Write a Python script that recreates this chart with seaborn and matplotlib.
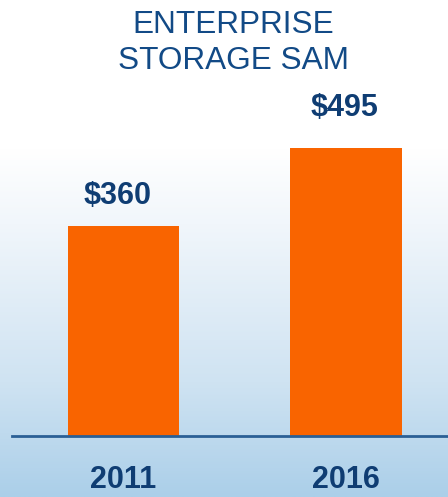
import numpy as np
import pandas as pd
import matplotlib
matplotlib.use("Agg")
import matplotlib.pyplot as plt
import seaborn as sns
from matplotlib.colors import LinearSegmentedColormap

# ---- data ----
years = ["2011", "2016"]
values = [360, 495]
value_labels = ["$360", "$495"]
title_text = "ENTERPRISE\nSTORAGE SAM"

df = pd.DataFrame({"year": years, "value": values})

sns.set_theme(style="white")
plt.rcParams["font.family"] = ["Liberation Sans", "DejaVu Sans"]

W, H = 448, 497
fig = plt.figure(figsize=(W / 100, H / 100), dpi=100)

# background gradient (white top -> light blue bottom)
bg = fig.add_axes([0, 0, 1, 1], zorder=0)
bg.set_axis_off()
cmap = LinearSegmentedColormap.from_list(
    "bg", [(0.0, "#ffffff"), (0.30, "#ffffff"), (0.45, "#f1f6fb"),
           (0.77, "#cfe3f2"), (1.0, "#abcfe9")])
grad = np.linspace(0, 1, 256).reshape(-1, 1)
bg.imshow(grad, aspect="auto", cmap=cmap, extent=[0, 1, 0, 1], origin="upper")
bg.set_xlim(0, 1)
bg.set_ylim(0, 1)

# main axes
ax_left, ax_bottom = 12 / W, 61 / H
ax = fig.add_axes([ax_left, ax_bottom, 1 - ax_left, 1 - ax_bottom], zorder=1)
ax.patch.set_alpha(0)

sns.barplot(data=df, x="year", y="value", color="#f96400", saturation=1,
            width=0.5, ax=ax, edgecolor="none")
ax.set_xlim(-0.501, 1.458)
ax.set_ylim(0, 749)

for s in ["top", "right", "left"]:
    ax.spines[s].set_visible(False)
ax.spines["bottom"].set_color("#2a5f95")
ax.spines["bottom"].set_linewidth(2)
ax.set_yticks([])
ax.set_xlabel("")
ax.set_ylabel("")
ax.tick_params(axis="x", length=0, pad=21, labelsize=22, labelcolor="#0f3d73")
for lbl in ax.get_xticklabels():
    lbl.set_fontweight("bold")

navy = "#0f3d73"
label_offsets = [(-4, 22), (-1, 29)]
for i, (v, t) in enumerate(zip(values, value_labels)):
    ax.annotate(t, xy=(i, v), xytext=label_offsets[i], textcoords="offset points",
                ha="center", va="center", fontsize=22, fontweight="bold", color=navy)

fig.text(233 / W, 1 - 43 / H, title_text, ha="center", va="center",
         fontsize=22.7, color="#124a86", linespacing=1.27)

fig.savefig("out.png", dpi=100)
